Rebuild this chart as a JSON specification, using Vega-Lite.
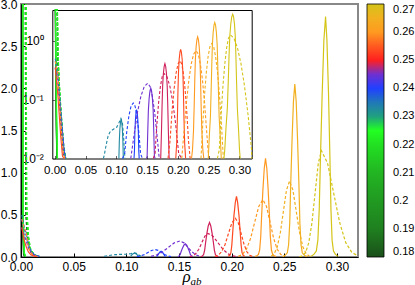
{
"$schema": "https://vega.github.io/schema/vega-lite/v6.json",
"width": 337, "height": 253,
"autosize": "none",
"padding": {"left": 21, "top": 4, "right": 57, "bottom": 28},
"config": {
  "view": {"stroke": "#888", "strokeWidth": 2},
  "font": "Liberation Sans",
  "axis": {"labelFont": "Liberation Sans", "labelColor": "#000", "grid": false, "domainColor": "#000", "tickColor": "#000", "labelFlush": false, "labelOverlap": false, "labelBound": false}
},
"data": {"values": [
{"c":"g18s","T":0.18,"k":"s","x":0.0,"y":40},{"c":"g18s","T":0.18,"k":"s","x":0.0008,"y":30},{"c":"g18s","T":0.18,"k":"s","x":0.0014,"y":0.4},{"c":"g18s","T":0.18,"k":"s","x":0.0024,"y":0.03},{"c":"g18s","T":0.18,"k":"s","x":0.0034,"y":0.006},
{"c":"g19s","T":0.19,"k":"s","x":0.0,"y":40},{"c":"g19s","T":0.19,"k":"s","x":0.0009,"y":30},{"c":"g19s","T":0.19,"k":"s","x":0.0015,"y":0.4},{"c":"g19s","T":0.19,"k":"s","x":0.0025,"y":0.035},{"c":"g19s","T":0.19,"k":"s","x":0.0036,"y":0.006},
{"c":"g20s","T":0.2,"k":"s","x":0.0,"y":40},{"c":"g20s","T":0.2,"k":"s","x":0.001,"y":30},{"c":"g20s","T":0.2,"k":"s","x":0.0016,"y":0.45},{"c":"g20s","T":0.2,"k":"s","x":0.0027,"y":0.04},{"c":"g20s","T":0.2,"k":"s","x":0.0038,"y":0.006},
{"c":"g21s","T":0.21,"k":"s","x":0.0,"y":40},{"c":"g21s","T":0.21,"k":"s","x":0.0011,"y":30},{"c":"g21s","T":0.21,"k":"s","x":0.0017,"y":0.5},{"c":"g21s","T":0.21,"k":"s","x":0.0029,"y":0.045},{"c":"g21s","T":0.21,"k":"s","x":0.004,"y":0.006},
{"c":"g22s","T":0.22,"k":"s","x":0.0,"y":40},{"c":"g22s","T":0.22,"k":"s","x":0.0012,"y":30},{"c":"g22s","T":0.22,"k":"s","x":0.0018,"y":0.5},{"c":"g22s","T":0.22,"k":"s","x":0.003,"y":0.05},{"c":"g22s","T":0.22,"k":"s","x":0.0042,"y":0.007},
{"c":"g225s","T":0.225,"k":"s","x":0.0,"y":40},{"c":"g225s","T":0.225,"k":"s","x":0.0013,"y":30},{"c":"g225s","T":0.225,"k":"s","x":0.0019,"y":0.55},{"c":"g225s","T":0.225,"k":"s","x":0.0032,"y":0.05},{"c":"g225s","T":0.225,"k":"s","x":0.0045,"y":0.007},
{"c":"g18d","T":0.18,"k":"d","x":0.0003,"y":30},{"c":"g18d","T":0.18,"k":"d","x":0.0022,"y":12},{"c":"g18d","T":0.18,"k":"d","x":0.0038,"y":4},{"c":"g18d","T":0.18,"k":"d","x":0.0046,"y":0.5},{"c":"g18d","T":0.18,"k":"d","x":0.0062,"y":0.2},{"c":"g18d","T":0.18,"k":"d","x":0.0082,"y":0.08},{"c":"g18d","T":0.18,"k":"d","x":0.011,"y":0.03},{"c":"g18d","T":0.18,"k":"d","x":0.014,"y":0.012},{"c":"g18d","T":0.18,"k":"d","x":0.017,"y":0.005},
{"c":"g19d","T":0.19,"k":"d","x":0.0003,"y":30},{"c":"g19d","T":0.19,"k":"d","x":0.0023,"y":12},{"c":"g19d","T":0.19,"k":"d","x":0.004,"y":4},{"c":"g19d","T":0.19,"k":"d","x":0.0048,"y":0.55},{"c":"g19d","T":0.19,"k":"d","x":0.0064,"y":0.22},{"c":"g19d","T":0.19,"k":"d","x":0.0085,"y":0.09},{"c":"g19d","T":0.19,"k":"d","x":0.0113,"y":0.032},{"c":"g19d","T":0.19,"k":"d","x":0.0143,"y":0.013},{"c":"g19d","T":0.19,"k":"d","x":0.0173,"y":0.005},
{"c":"g20d","T":0.2,"k":"d","x":0.0003,"y":30},{"c":"g20d","T":0.2,"k":"d","x":0.0024,"y":12},{"c":"g20d","T":0.2,"k":"d","x":0.0042,"y":4},{"c":"g20d","T":0.2,"k":"d","x":0.005,"y":0.55},{"c":"g20d","T":0.2,"k":"d","x":0.0066,"y":0.23},{"c":"g20d","T":0.2,"k":"d","x":0.0087,"y":0.09},{"c":"g20d","T":0.2,"k":"d","x":0.0116,"y":0.033},{"c":"g20d","T":0.2,"k":"d","x":0.0146,"y":0.013},{"c":"g20d","T":0.2,"k":"d","x":0.0176,"y":0.005},
{"c":"g21d","T":0.21,"k":"d","x":0.0003,"y":30},{"c":"g21d","T":0.21,"k":"d","x":0.0025,"y":12},{"c":"g21d","T":0.21,"k":"d","x":0.0043,"y":4},{"c":"g21d","T":0.21,"k":"d","x":0.0052,"y":0.6},{"c":"g21d","T":0.21,"k":"d","x":0.0068,"y":0.24},{"c":"g21d","T":0.21,"k":"d","x":0.0089,"y":0.095},{"c":"g21d","T":0.21,"k":"d","x":0.0118,"y":0.034},{"c":"g21d","T":0.21,"k":"d","x":0.0148,"y":0.014},{"c":"g21d","T":0.21,"k":"d","x":0.0178,"y":0.006},
{"c":"g22d","T":0.22,"k":"d","x":0.0003,"y":30},{"c":"g22d","T":0.22,"k":"d","x":0.0025,"y":12},{"c":"g22d","T":0.22,"k":"d","x":0.0044,"y":4},{"c":"g22d","T":0.22,"k":"d","x":0.0053,"y":0.6},{"c":"g22d","T":0.22,"k":"d","x":0.0069,"y":0.25},{"c":"g22d","T":0.22,"k":"d","x":0.009,"y":0.1},{"c":"g22d","T":0.22,"k":"d","x":0.012,"y":0.035},{"c":"g22d","T":0.22,"k":"d","x":0.015,"y":0.014},{"c":"g22d","T":0.22,"k":"d","x":0.018,"y":0.006},
{"c":"g225d","T":0.225,"k":"d","x":0.0003,"y":30},{"c":"g225d","T":0.225,"k":"d","x":0.0026,"y":12},{"c":"g225d","T":0.225,"k":"d","x":0.0045,"y":4},{"c":"g225d","T":0.225,"k":"d","x":0.0055,"y":0.62},{"c":"g225d","T":0.225,"k":"d","x":0.007,"y":0.25},{"c":"g225d","T":0.225,"k":"d","x":0.009,"y":0.1},{"c":"g225d","T":0.225,"k":"d","x":0.012,"y":0.035},{"c":"g225d","T":0.225,"k":"d","x":0.015,"y":0.014},{"c":"g225d","T":0.225,"k":"d","x":0.018,"y":0.006},
{"c":"z233d","T":0.233,"k":"d","x":0.0008,"y":0.5},{"c":"z233d","T":0.233,"k":"d","x":0.003,"y":0.36},{"c":"z233d","T":0.233,"k":"d","x":0.005,"y":0.28},{"c":"z233d","T":0.233,"k":"d","x":0.007,"y":0.16},{"c":"z233d","T":0.233,"k":"d","x":0.009,"y":0.085},{"c":"z233d","T":0.233,"k":"d","x":0.012,"y":0.036},{"c":"z233d","T":0.233,"k":"d","x":0.015,"y":0.016},{"c":"z233d","T":0.233,"k":"d","x":0.018,"y":0.007},
{"c":"z24d","T":0.24,"k":"d","x":0.0008,"y":0.45},{"c":"z24d","T":0.24,"k":"d","x":0.003,"y":0.33},{"c":"z24d","T":0.24,"k":"d","x":0.005,"y":0.25},{"c":"z24d","T":0.24,"k":"d","x":0.007,"y":0.14},{"c":"z24d","T":0.24,"k":"d","x":0.009,"y":0.075},{"c":"z24d","T":0.24,"k":"d","x":0.012,"y":0.032},{"c":"z24d","T":0.24,"k":"d","x":0.015,"y":0.014},{"c":"z24d","T":0.24,"k":"d","x":0.0175,"y":0.007},
{"c":"z245d","T":0.245,"k":"d","x":0.0008,"y":0.35},{"c":"z245d","T":0.245,"k":"d","x":0.003,"y":0.26},{"c":"z245d","T":0.245,"k":"d","x":0.005,"y":0.19},{"c":"z245d","T":0.245,"k":"d","x":0.007,"y":0.11},{"c":"z245d","T":0.245,"k":"d","x":0.009,"y":0.06},{"c":"z245d","T":0.245,"k":"d","x":0.012,"y":0.025},{"c":"z245d","T":0.245,"k":"d","x":0.015,"y":0.011},{"c":"z245d","T":0.245,"k":"d","x":0.017,"y":0.006},
{"c":"z26d","T":0.26,"k":"d","x":0.0008,"y":0.45},{"c":"z26d","T":0.26,"k":"d","x":0.003,"y":0.34},{"c":"z26d","T":0.26,"k":"d","x":0.0048,"y":0.3},{"c":"z26d","T":0.26,"k":"d","x":0.0065,"y":0.15},{"c":"z26d","T":0.26,"k":"d","x":0.0085,"y":0.07},{"c":"z26d","T":0.26,"k":"d","x":0.011,"y":0.03},{"c":"z26d","T":0.26,"k":"d","x":0.014,"y":0.012},{"c":"z26d","T":0.26,"k":"d","x":0.0165,"y":0.006},
{"c":"z2535s","T":0.2535,"k":"s","x":0.0008,"y":0.35},{"c":"z2535s","T":0.2535,"k":"s","x":0.003,"y":0.2},{"c":"z2535s","T":0.2535,"k":"s","x":0.005,"y":0.12},{"c":"z2535s","T":0.2535,"k":"s","x":0.007,"y":0.06},{"c":"z2535s","T":0.2535,"k":"s","x":0.0095,"y":0.025},{"c":"z2535s","T":0.2535,"k":"s","x":0.0125,"y":0.011},{"c":"z2535s","T":0.2535,"k":"s","x":0.015,"y":0.005},
{"c":"t233d","T":0.233,"k":"d","x":0.079,"y":0.008},{"c":"t233d","T":0.233,"k":"d","x":0.0805,"y":0.0115},{"c":"t233d","T":0.233,"k":"d","x":0.0835,"y":0.017},{"c":"t233d","T":0.233,"k":"d","x":0.0866,"y":0.024},{"c":"t233d","T":0.233,"k":"d","x":0.0895,"y":0.028},{"c":"t233d","T":0.233,"k":"d","x":0.0925,"y":0.03},{"c":"t233d","T":0.233,"k":"d","x":0.0965,"y":0.032},{"c":"t233d","T":0.233,"k":"d","x":0.1006,"y":0.034},{"c":"t233d","T":0.233,"k":"d","x":0.1045,"y":0.041},{"c":"t233d","T":0.233,"k":"d","x":0.1075,"y":0.048},{"c":"t233d","T":0.233,"k":"d","x":0.11,"y":0.04},{"c":"t233d","T":0.233,"k":"d","x":0.112,"y":0.022},{"c":"t233d","T":0.233,"k":"d","x":0.114,"y":0.008},
{"c":"t233s","T":0.233,"k":"s","x":0.1042,"y":0.0094},{"c":"t233s","T":0.233,"k":"s","x":0.1049,"y":0.0197},{"c":"t233s","T":0.233,"k":"s","x":0.1058,"y":0.032},{"c":"t233s","T":0.233,"k":"s","x":0.1069,"y":0.0423},{"c":"t233s","T":0.233,"k":"s","x":0.1078,"y":0.047},{"c":"t233s","T":0.233,"k":"s","x":0.1087,"y":0.0423},{"c":"t233s","T":0.233,"k":"s","x":0.1098,"y":0.032},{"c":"t233s","T":0.233,"k":"s","x":0.1107,"y":0.0197},{"c":"t233s","T":0.233,"k":"s","x":0.1114,"y":0.0094},
{"c":"b24d","T":0.24,"k":"d","x":0.11,"y":0.0039},{"c":"b24d","T":0.24,"k":"d","x":0.1135,"y":0.0119},{"c":"b24d","T":0.24,"k":"d","x":0.117,"y":0.0286},{"c":"b24d","T":0.24,"k":"d","x":0.1205,"y":0.0534},{"c":"b24d","T":0.24,"k":"d","x":0.124,"y":0.0777},{"c":"b24d","T":0.24,"k":"d","x":0.1275,"y":0.088},{"c":"b24d","T":0.24,"k":"d","x":0.1305,"y":0.0777},{"c":"b24d","T":0.24,"k":"d","x":0.1335,"y":0.0534},{"c":"b24d","T":0.24,"k":"d","x":0.1365,"y":0.0286},{"c":"b24d","T":0.24,"k":"d","x":0.1395,"y":0.0119},{"c":"b24d","T":0.24,"k":"d","x":0.1425,"y":0.0039},
{"c":"b24s","T":0.24,"k":"s","x":0.1288,"y":0.0048},{"c":"b24s","T":0.24,"k":"s","x":0.1295,"y":0.0136},{"c":"b24s","T":0.24,"k":"s","x":0.1302,"y":0.0286},{"c":"b24s","T":0.24,"k":"s","x":0.1311,"y":0.0462},{"c":"b24s","T":0.24,"k":"s","x":0.1321,"y":0.0612},{"c":"b24s","T":0.24,"k":"s","x":0.133,"y":0.068},{"c":"b24s","T":0.24,"k":"s","x":0.1339,"y":0.0612},{"c":"b24s","T":0.24,"k":"s","x":0.1349,"y":0.0462},{"c":"b24s","T":0.24,"k":"s","x":0.1358,"y":0.0286},{"c":"b24s","T":0.24,"k":"s","x":0.1365,"y":0.0136},{"c":"b24s","T":0.24,"k":"s","x":0.1372,"y":0.0048},
{"c":"p245d","T":0.245,"k":"d","x":0.1235,"y":0.0083},{"c":"p245d","T":0.245,"k":"d","x":0.129,"y":0.0257},{"c":"p245d","T":0.245,"k":"d","x":0.1345,"y":0.0617},{"c":"p245d","T":0.245,"k":"d","x":0.14,"y":0.115},{"c":"p245d","T":0.245,"k":"d","x":0.1455,"y":0.168},{"c":"p245d","T":0.245,"k":"d","x":0.151,"y":0.19},{"c":"p245d","T":0.245,"k":"d","x":0.1548,"y":0.168},{"c":"p245d","T":0.245,"k":"d","x":0.1585,"y":0.115},{"c":"p245d","T":0.245,"k":"d","x":0.1623,"y":0.0617},{"c":"p245d","T":0.245,"k":"d","x":0.166,"y":0.0257},{"c":"p245d","T":0.245,"k":"d","x":0.1698,"y":0.0083},
{"c":"p245s","T":0.245,"k":"s","x":0.1489,"y":0.0039},{"c":"p245s","T":0.245,"k":"s","x":0.1501,"y":0.011},{"c":"p245s","T":0.245,"k":"s","x":0.1512,"y":0.031},{"c":"p245s","T":0.245,"k":"s","x":0.1521,"y":0.066},{"c":"p245s","T":0.245,"k":"s","x":0.1534,"y":0.107},{"c":"p245s","T":0.245,"k":"s","x":0.1547,"y":0.141},{"c":"p245s","T":0.245,"k":"s","x":0.156,"y":0.157},{"c":"p245s","T":0.245,"k":"s","x":0.1573,"y":0.141},{"c":"p245s","T":0.245,"k":"s","x":0.1586,"y":0.107},{"c":"p245s","T":0.245,"k":"s","x":0.1599,"y":0.066},{"c":"p245s","T":0.245,"k":"s","x":0.1608,"y":0.031},{"c":"p245s","T":0.245,"k":"s","x":0.1619,"y":0.011},{"c":"p245s","T":0.245,"k":"s","x":0.1631,"y":0.0039},
{"c":"c25d","T":0.2485,"k":"d","x":0.1601,"y":0.0031},{"c":"c25d","T":0.2485,"k":"d","x":0.163,"y":0.0123},{"c":"c25d","T":0.2485,"k":"d","x":0.1659,"y":0.038},{"c":"c25d","T":0.2485,"k":"d","x":0.1688,"y":0.091},{"c":"c25d","T":0.2485,"k":"d","x":0.1717,"y":0.17},{"c":"c25d","T":0.2485,"k":"d","x":0.1746,"y":0.247},{"c":"c25d","T":0.2485,"k":"d","x":0.1775,"y":0.28},{"c":"c25d","T":0.2485,"k":"d","x":0.1823,"y":0.247},{"c":"c25d","T":0.2485,"k":"d","x":0.187,"y":0.17},{"c":"c25d","T":0.2485,"k":"d","x":0.1918,"y":0.091},{"c":"c25d","T":0.2485,"k":"d","x":0.1965,"y":0.038},{"c":"c25d","T":0.2485,"k":"d","x":0.2013,"y":0.0123},{"c":"c25d","T":0.2485,"k":"d","x":0.206,"y":0.0031},
{"c":"c25s","T":0.2485,"k":"s","x":0.1706,"y":0.0049},{"c":"c25s","T":0.2485,"k":"s","x":0.1722,"y":0.0103},{"c":"c25s","T":0.2485,"k":"s","x":0.1734,"y":0.029},{"c":"c25s","T":0.2485,"k":"s","x":0.1744,"y":0.082},{"c":"c25s","T":0.2485,"k":"s","x":0.1753,"y":0.172},{"c":"c25s","T":0.2485,"k":"s","x":0.1765,"y":0.279},{"c":"c25s","T":0.2485,"k":"s","x":0.1778,"y":0.369},{"c":"c25s","T":0.2485,"k":"s","x":0.179,"y":0.41},{"c":"c25s","T":0.2485,"k":"s","x":0.1802,"y":0.369},{"c":"c25s","T":0.2485,"k":"s","x":0.1815,"y":0.279},{"c":"c25s","T":0.2485,"k":"s","x":0.1827,"y":0.172},{"c":"c25s","T":0.2485,"k":"s","x":0.1836,"y":0.082},{"c":"c25s","T":0.2485,"k":"s","x":0.1846,"y":0.029},{"c":"c25s","T":0.2485,"k":"s","x":0.1858,"y":0.0103},{"c":"c25s","T":0.2485,"k":"s","x":0.1874,"y":0.0049},
{"c":"r255d","T":0.2535,"k":"d","x":0.184,"y":0.0051},{"c":"r255d","T":0.2535,"k":"d","x":0.1873,"y":0.02},{"c":"r255d","T":0.2535,"k":"d","x":0.1905,"y":0.062},{"c":"r255d","T":0.2535,"k":"d","x":0.1938,"y":0.149},{"c":"r255d","T":0.2535,"k":"d","x":0.197,"y":0.279},{"c":"r255d","T":0.2535,"k":"d","x":0.2003,"y":0.406},{"c":"r255d","T":0.2535,"k":"d","x":0.2035,"y":0.46},{"c":"r255d","T":0.2535,"k":"d","x":0.2063,"y":0.406},{"c":"r255d","T":0.2535,"k":"d","x":0.209,"y":0.279},{"c":"r255d","T":0.2535,"k":"d","x":0.2118,"y":0.149},{"c":"r255d","T":0.2535,"k":"d","x":0.2145,"y":0.062},{"c":"r255d","T":0.2535,"k":"d","x":0.2173,"y":0.02},{"c":"r255d","T":0.2535,"k":"d","x":0.22,"y":0.0051},
{"c":"r255s","T":0.2535,"k":"s","x":0.1966,"y":0.0086},{"c":"r255s","T":0.2535,"k":"s","x":0.1981,"y":0.018},{"c":"r255s","T":0.2535,"k":"s","x":0.1993,"y":0.05},{"c":"r255s","T":0.2535,"k":"s","x":0.2002,"y":0.144},{"c":"r255s","T":0.2535,"k":"s","x":0.2011,"y":0.302},{"c":"r255s","T":0.2535,"k":"s","x":0.2022,"y":0.49},{"c":"r255s","T":0.2535,"k":"s","x":0.2035,"y":0.648},{"c":"r255s","T":0.2535,"k":"s","x":0.2046,"y":0.72},{"c":"r255s","T":0.2535,"k":"s","x":0.2057,"y":0.648},{"c":"r255s","T":0.2535,"k":"s","x":0.207,"y":0.49},{"c":"r255s","T":0.2535,"k":"s","x":0.2081,"y":0.302},{"c":"r255s","T":0.2535,"k":"s","x":0.209,"y":0.144},{"c":"r255s","T":0.2535,"k":"s","x":0.2099,"y":0.05},{"c":"r255s","T":0.2535,"k":"s","x":0.2111,"y":0.018},{"c":"r255s","T":0.2535,"k":"s","x":0.2126,"y":0.0086},
{"c":"o26d","T":0.26,"k":"d","x":0.2063,"y":0.0075},{"c":"o26d","T":0.26,"k":"d","x":0.2102,"y":0.03},{"c":"o26d","T":0.26,"k":"d","x":0.2141,"y":0.092},{"c":"o26d","T":0.26,"k":"d","x":0.218,"y":0.221},{"c":"o26d","T":0.26,"k":"d","x":0.2219,"y":0.412},{"c":"o26d","T":0.26,"k":"d","x":0.2258,"y":0.6},{"c":"o26d","T":0.26,"k":"d","x":0.2297,"y":0.68},{"c":"o26d","T":0.26,"k":"d","x":0.2331,"y":0.6},{"c":"o26d","T":0.26,"k":"d","x":0.2365,"y":0.412},{"c":"o26d","T":0.26,"k":"d","x":0.2399,"y":0.221},{"c":"o26d","T":0.26,"k":"d","x":0.2433,"y":0.092},{"c":"o26d","T":0.26,"k":"d","x":0.2467,"y":0.03},{"c":"o26d","T":0.26,"k":"d","x":0.2501,"y":0.0075},
{"c":"o26s","T":0.26,"k":"s","x":0.2222,"y":0.0059},{"c":"o26s","T":0.26,"k":"s","x":0.2238,"y":0.014},{"c":"o26s","T":0.26,"k":"s","x":0.2254,"y":0.029},{"c":"o26s","T":0.26,"k":"s","x":0.2266,"y":0.082},{"c":"o26s","T":0.26,"k":"s","x":0.2276,"y":0.234},{"c":"o26s","T":0.26,"k":"s","x":0.2285,"y":0.491},{"c":"o26s","T":0.26,"k":"s","x":0.2297,"y":0.796},{"c":"o26s","T":0.26,"k":"s","x":0.231,"y":1.053},{"c":"o26s","T":0.26,"k":"s","x":0.2322,"y":1.17},{"c":"o26s","T":0.26,"k":"s","x":0.2334,"y":1.053},{"c":"o26s","T":0.26,"k":"s","x":0.2347,"y":0.796},{"c":"o26s","T":0.26,"k":"s","x":0.2359,"y":0.491},{"c":"o26s","T":0.26,"k":"s","x":0.2368,"y":0.234},{"c":"o26s","T":0.26,"k":"s","x":0.2378,"y":0.082},{"c":"o26s","T":0.26,"k":"s","x":0.239,"y":0.029},{"c":"o26s","T":0.26,"k":"s","x":0.2406,"y":0.014},{"c":"o26s","T":0.26,"k":"s","x":0.2422,"y":0.0059},
{"c":"l265d","T":0.265,"k":"d","x":0.2376,"y":0.009},{"c":"l265d","T":0.265,"k":"d","x":0.2405,"y":0.0395},{"c":"l265d","T":0.265,"k":"d","x":0.2434,"y":0.122},{"c":"l265d","T":0.265,"k":"d","x":0.2463,"y":0.292},{"c":"l265d","T":0.265,"k":"d","x":0.2492,"y":0.546},{"c":"l265d","T":0.265,"k":"d","x":0.2521,"y":0.794},{"c":"l265d","T":0.265,"k":"d","x":0.255,"y":0.9},{"c":"l265d","T":0.265,"k":"d","x":0.2582,"y":0.794},{"c":"l265d","T":0.265,"k":"d","x":0.2613,"y":0.546},{"c":"l265d","T":0.265,"k":"d","x":0.2645,"y":0.292},{"c":"l265d","T":0.265,"k":"d","x":0.2676,"y":0.122},{"c":"l265d","T":0.265,"k":"d","x":0.2708,"y":0.0395},{"c":"l265d","T":0.265,"k":"d","x":0.2739,"y":0.009},
{"c":"l265s","T":0.265,"k":"s","x":0.2484,"y":0.0062},{"c":"l265s","T":0.265,"k":"s","x":0.2495,"y":0.0103},{"c":"l265s","T":0.265,"k":"s","x":0.2512,"y":0.0246},{"c":"l265s","T":0.265,"k":"s","x":0.2529,"y":0.051},{"c":"l265s","T":0.265,"k":"s","x":0.2541,"y":0.144},{"c":"l265s","T":0.265,"k":"s","x":0.2552,"y":0.41},{"c":"l265s","T":0.265,"k":"s","x":0.2561,"y":0.861},{"c":"l265s","T":0.265,"k":"s","x":0.2574,"y":1.394},{"c":"l265s","T":0.265,"k":"s","x":0.2587,"y":1.845},{"c":"l265s","T":0.265,"k":"s","x":0.26,"y":2.05},{"c":"l265s","T":0.265,"k":"s","x":0.2613,"y":1.845},{"c":"l265s","T":0.265,"k":"s","x":0.2626,"y":1.394},{"c":"l265s","T":0.265,"k":"s","x":0.2639,"y":0.861},{"c":"l265s","T":0.265,"k":"s","x":0.2648,"y":0.41},{"c":"l265s","T":0.265,"k":"s","x":0.2659,"y":0.144},{"c":"l265s","T":0.265,"k":"s","x":0.2671,"y":0.051},{"c":"l265s","T":0.265,"k":"s","x":0.2688,"y":0.0246},{"c":"l265s","T":0.265,"k":"s","x":0.2705,"y":0.0103},{"c":"l265s","T":0.265,"k":"s","x":0.2716,"y":0.0062},
{"c":"y27d","T":0.27,"k":"d","x":0.2643,"y":0.0028},{"c":"y27d","T":0.27,"k":"d","x":0.2673,"y":0.014},{"c":"y27d","T":0.27,"k":"d","x":0.2703,"y":0.055},{"c":"y27d","T":0.27,"k":"d","x":0.2733,"y":0.171},{"c":"y27d","T":0.27,"k":"d","x":0.2763,"y":0.409},{"c":"y27d","T":0.27,"k":"d","x":0.2793,"y":0.764},{"c":"y27d","T":0.27,"k":"d","x":0.2823,"y":1.112},{"c":"y27d","T":0.27,"k":"d","x":0.2853,"y":1.26},{"c":"y27d","T":0.27,"k":"d","x":0.2911,"y":1.112},{"c":"y27d","T":0.27,"k":"d","x":0.2968,"y":0.764},{"c":"y27d","T":0.27,"k":"d","x":0.3026,"y":0.409},{"c":"y27d","T":0.27,"k":"d","x":0.3083,"y":0.171},{"c":"y27d","T":0.27,"k":"d","x":0.3141,"y":0.055},{"c":"y27d","T":0.27,"k":"d","x":0.3198,"y":0.014},{"c":"y27d","T":0.27,"k":"d","x":0.3256,"y":0.0028},
{"c":"y27s","T":0.27,"k":"s","x":0.2749,"y":0.0086},{"c":"y27s","T":0.27,"k":"s","x":0.2762,"y":0.014},{"c":"y27s","T":0.27,"k":"s","x":0.2783,"y":0.034},{"c":"y27s","T":0.27,"k":"s","x":0.2804,"y":0.071},{"c":"y27s","T":0.27,"k":"s","x":0.2819,"y":0.2},{"c":"y27s","T":0.27,"k":"s","x":0.2832,"y":0.57},{"c":"y27s","T":0.27,"k":"s","x":0.2844,"y":1.2},{"c":"y27s","T":0.27,"k":"s","x":0.286,"y":1.94},{"c":"y27s","T":0.27,"k":"s","x":0.2876,"y":2.57},{"c":"y27s","T":0.27,"k":"s","x":0.2892,"y":2.85},{"c":"y27s","T":0.27,"k":"s","x":0.2905,"y":2.57},{"c":"y27s","T":0.27,"k":"s","x":0.292,"y":1.94},{"c":"y27s","T":0.27,"k":"s","x":0.2933,"y":1.2},{"c":"y27s","T":0.27,"k":"s","x":0.2943,"y":0.57},{"c":"y27s","T":0.27,"k":"s","x":0.2954,"y":0.2},{"c":"y27s","T":0.27,"k":"s","x":0.2967,"y":0.071},{"c":"y27s","T":0.27,"k":"s","x":0.2984,"y":0.034},{"c":"y27s","T":0.27,"k":"s","x":0.3002,"y":0.014},{"c":"y27s","T":0.27,"k":"s","x":0.3013,"y":0.0086}
]},
"resolve": {"scale": {"x": "independent", "y": "independent"}},
"layer": [
{
  "mark": {"type": "line", "clip": true, "strokeWidth": 1.2},
  "encoding": {
    "x": {"field": "x", "type": "quantitative",
      "scale": {"domain": [0, 0.32], "nice": false, "zero": false},
      "axis": {"orient": "bottom", "values": [0, 0.05, 0.1, 0.15, 0.2, 0.25, 0.3], "format": ".2f", "labelFontSize": 12, "tickSize": -4, "labelPadding": 8,
        "title": "ρ", "titleFont": "Liberation Serif", "titleFontStyle": "italic", "titleFontWeight": "normal", "titleFontSize": 17, "titleAlign": "center", "titleBaseline": "alphabetic", "titleX": 165, "titleY": 24}},
    "y": {"field": "y", "type": "quantitative",
      "scale": {"domain": [0, 3], "nice": false, "zero": false},
      "axis": {"orient": "left", "values": [0, 0.5, 1, 1.5, 2, 2.5, 3], "format": ".1f", "labelFontSize": 12, "tickSize": -4, "labelPadding": 8, "title": null}},
    "color": {"field": "T", "type": "quantitative",
      "scale": {"domain": [0.18, 0.19, 0.2, 0.21, 0.22, 0.225, 0.23, 0.235, 0.24, 0.245, 0.2475, 0.25, 0.255, 0.26, 0.265, 0.27],
        "range": ["#1a4f1a", "#1f801f", "#219a21", "#22b522", "#22e022", "#22ff22", "#20a080", "#2078b8", "#2040ff", "#7030d0", "#b02080", "#ff2020", "#ff5a20", "#ff9a20", "#f2b020", "#d4c418"],
        "interpolate": "rgb"},
      "legend": {"orient": "right", "offset": 9, "padding": 0, "direction": "vertical", "gradientLength": 253, "gradientThickness": 17,
        "values": [0.18, 0.19, 0.2, 0.21, 0.22, 0.23, 0.24, 0.25, 0.26, 0.27], "format": ".2~f", "labelFontSize": 11, "labelFont": "Liberation Sans", "labelColor": "#000", "labelOffset": 9, "labelBaseline": "middle", "labelOverlap": false,
        "title": null, "gradientStrokeColor": "#000", "gradientStrokeWidth": 0.8}},
    "strokeDash": {"field": "k", "type": "nominal", "scale": {"domain": ["s", "d"], "range": [[1, 0], [3, 2]]}, "legend": null},
    "detail": {"field": "c"}
  }
},
{
  "mark": {"type": "line", "strokeWidth": 1.1},
  "encoding": {
    "x": {"field": "x", "type": "quantitative",
      "scale": {"domain": [-0.004, 0.32], "range": [31.3, 230.7], "nice": false, "zero": false, "clamp": true},
      "axis": {"orient": "bottom", "offset": -98.5, "values": [0, 0.05, 0.1, 0.15, 0.2, 0.25, 0.3], "format": ".2f", "labelFontSize": 11.5, "tickSize": -3, "tickColor": "#666", "labelPadding": 8.5,
        "title": "ab", "titleFont": "Liberation Serif", "titleFontStyle": "italic", "titleFontWeight": "normal", "titleFontSize": 11, "titleAlign": "left", "titleBaseline": "alphabetic", "titleX": 169, "titleY": 125.5}},
    "y": {"field": "y", "type": "quantitative",
      "scale": {"type": "log", "domain": [0.01, 3.35], "range": [154.5, 6], "nice": false, "clamp": true},
      "axis": {"orient": "left", "offset": -31.3, "values": [0.01, 0.1, 1], "labelExpr": "datum.value >= 0.5 ? '10⁰' : datum.value >= 0.05 ? '10⁻¹' : '10⁻²'", "labelFontSize": 12, "tickSize": -3, "tickColor": "#666", "labelPadding": 12, "title": null}},
    "color": {"field": "T", "type": "quantitative"},
    "strokeDash": {"field": "k", "type": "nominal", "legend": null},
    "detail": {"field": "c"}
  }
},
{
  "data": {"values": []},
  "mark": {"type": "point", "opacity": 0},
  "encoding": {
    "x": {"field": "x", "type": "quantitative",
      "scale": {"domain": [-0.004, 0.32], "range": [31.3, 230.7], "nice": false, "zero": false},
      "axis": {"orient": "top", "offset": -6, "labels": false, "ticks": false, "title": null}},
    "y": {"field": "y", "type": "quantitative",
      "scale": {"type": "log", "domain": [0.01, 3.35], "range": [154.5, 6], "nice": false},
      "axis": {"orient": "right", "offset": -106.3, "labels": false, "ticks": false, "title": null}}
  }
}
]
}
